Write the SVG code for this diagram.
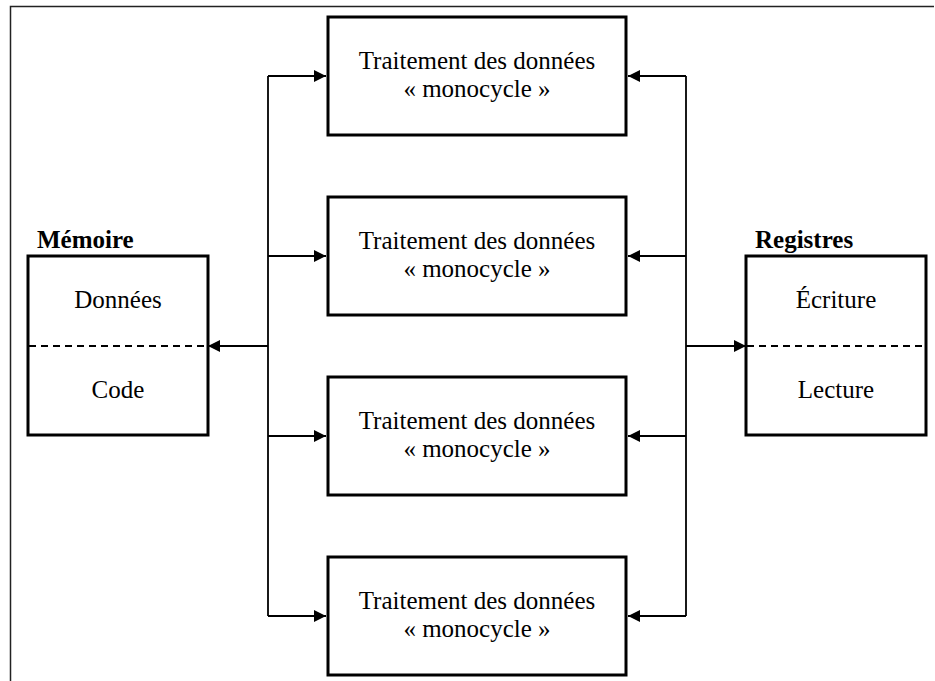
<svg xmlns="http://www.w3.org/2000/svg" width="935" height="681" viewBox="0 0 935 681">
<style>
.box{fill:#fff;stroke:#000;stroke-width:3}
.t{font-family:"Liberation Serif","Times New Roman",serif;font-size:25px;fill:#000;text-anchor:middle}
.b{font-family:"Liberation Serif","Times New Roman",serif;font-size:25px;font-weight:bold;fill:#000}
.c{fill:none;stroke:#000;stroke-width:1.8}
.d{stroke:#000;stroke-width:1.8;stroke-dasharray:7,5}
</style>
<defs>
<marker id="ah" viewBox="0 0 12 12" refX="12" refY="6" markerWidth="12" markerHeight="12" markerUnits="userSpaceOnUse" orient="auto">
<path d="M0,0 L12,6 L0,12 Z" fill="#000"/>
</marker>
</defs>
<rect width="935" height="681" fill="#fff"/>
<g id="frame"><path d="M10.5,681 V6.5 H934" fill="none" stroke="#222" stroke-width="1.5"/></g>

<g id="connectors">
<path class="c" d="M268,76 V616"/>
<path class="c" d="M268,76 H326" marker-end="url(#ah)"/>
<path class="c" d="M268,256 H326" marker-end="url(#ah)"/>
<path class="c" d="M268,436 H326" marker-end="url(#ah)"/>
<path class="c" d="M268,616 H326" marker-end="url(#ah)"/>
<path class="c" d="M268,346 H208" marker-end="url(#ah)"/>
<path class="c" d="M686,76 V616"/>
<path class="c" d="M686,76 H628" marker-end="url(#ah)"/>
<path class="c" d="M686,256 H628" marker-end="url(#ah)"/>
<path class="c" d="M686,436 H628" marker-end="url(#ah)"/>
<path class="c" d="M686,616 H628" marker-end="url(#ah)"/>
<path class="c" d="M686,346 H746" marker-end="url(#ah)"/>
</g>

<g id="memoire">
<text class="b" x="37" y="248">Mémoire</text>
<rect class="box" x="28" y="256" width="180" height="179"/>
<line class="d" x1="29" y1="346" x2="207" y2="346"/>
<text class="t" x="118" y="308">Données</text>
<text class="t" x="118" y="398">Code</text>
</g>

<g id="registres">
<text class="b" x="755" y="248">Registres</text>
<rect class="box" x="746" y="256" width="180" height="179"/>
<line class="d" x1="747" y1="346" x2="925" y2="346"/>
<text class="t" x="836" y="308">Écriture</text>
<text class="t" x="836" y="398">Lecture</text>
</g>

<g id="proc1">
<rect class="box" x="328" y="17" width="298" height="118"/>
<text class="t" x="477" y="69">Traitement des données</text>
<text class="t" x="477" y="97">« monocycle »</text>
</g>
<g id="proc2">
<rect class="box" x="328" y="197" width="298" height="118"/>
<text class="t" x="477" y="249">Traitement des données</text>
<text class="t" x="477" y="277">« monocycle »</text>
</g>
<g id="proc3">
<rect class="box" x="328" y="377" width="298" height="118"/>
<text class="t" x="477" y="429">Traitement des données</text>
<text class="t" x="477" y="457">« monocycle »</text>
</g>
<g id="proc4">
<rect class="box" x="328" y="557" width="298" height="118"/>
<text class="t" x="477" y="609">Traitement des données</text>
<text class="t" x="477" y="637">« monocycle »</text>
</g>
</svg>
